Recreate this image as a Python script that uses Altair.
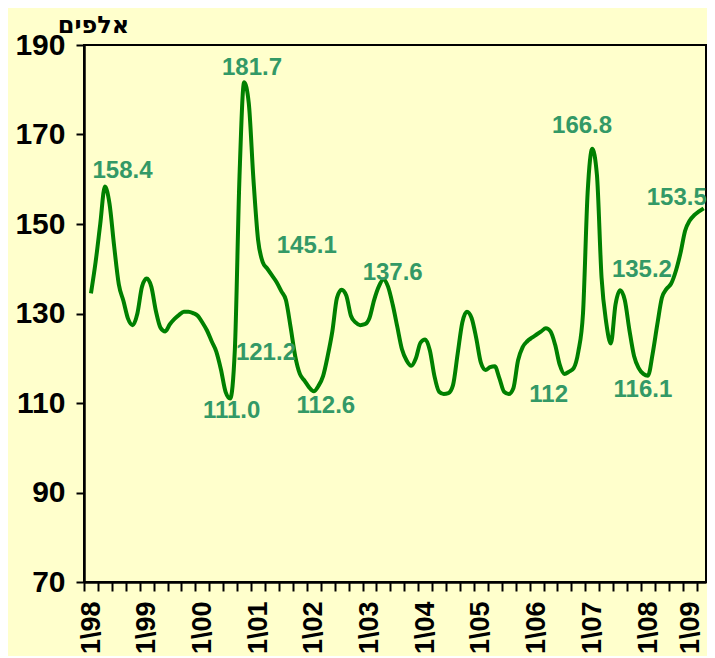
import json
import altair as alt
import pandas as pd

# monthly index: 0 = 1\98 ... 132 = 1\09
month_index = list(range(133))
values = [
    134.5, 141.5, 150.0, 158.4, 154.5, 145.0, 136.5, 132.8, 128.8, 127.4,
    130.0, 136.0, 137.8, 136.0, 130.5, 126.8, 126.0, 127.6, 128.8, 129.7,
    130.4, 130.4, 130.1, 129.5, 128.0, 126.2, 123.8, 121.5, 117.5, 112.5,
    111.0, 122.0, 160.6, 181.7, 177.0, 160.0, 146.5, 141.5, 140.0, 138.5,
    137.0, 135.0, 133.0, 127.0, 120.5, 116.5, 115.0, 113.5, 112.6, 113.8,
    116.0, 120.5, 126.0, 133.5, 135.3, 134.0, 129.5, 128.0, 127.4, 127.6,
    129.0, 133.0, 136.0, 137.6, 136.0, 132.0, 127.0, 122.0, 119.5, 118.3,
    120.0, 123.5, 124.2, 121.8, 116.0, 112.5, 112.0, 112.2, 114.0, 121.0,
    128.0, 130.4, 129.0, 124.5, 119.0, 117.4, 118.0, 118.2, 115.5, 112.5,
    112.0, 113.3, 119.5, 122.5, 123.8, 124.6, 125.3, 126.0, 126.7, 126.0,
    123.0, 118.5, 116.5, 117.0, 117.8, 121.5, 130.0, 157.0, 166.8, 161.0,
    138.0, 128.0, 123.3, 132.0, 135.2, 133.0, 126.3, 120.5, 117.8, 116.5,
    116.1, 121.0, 127.5, 133.5, 135.5, 136.7, 139.5, 143.5, 148.5, 150.8,
    152.0, 152.8, 153.5,
]
tick_labels = ["1\\98", "1\\99", "1\\00", "1\\01", "1\\02", "1\\03",
               "1\\04", "1\\05", "1\\06", "1\\07", "1\\08", "1\\09"]
y_ticks = [70, 90, 110, 130, 150, 170, 190]

ann_text = ["158.4", "181.7", "145.1", "121.2", "111.0", "112.6",
            "137.6", "112", "166.8", "135.2", "116.1", "153.5"]
ann_x = [6.8, 34.7, 46.5, 37.7, 30.3, 50.6, 65.0, 98.6, 105.8, 118.7, 118.9, 126.2]
ann_y = [160.3, 183.3, 143.6, 119.6, 106.6, 107.8, 137.5, 110.3, 170.3, 138.2, 111.4, 154.2]

df = pd.DataFrame({"i": month_index, "v": values})
ann = pd.DataFrame({"t": ann_text, "i": ann_x, "v": ann_y})

x_tick_values = [-1.5 + 3 * k for k in range(46)]
labels_js = "[" + ",".join(json.dumps(s) for s in tick_labels) + "]"
label_expr = (f"(round(datum.value + 1.5) % 12 == 0) ? "
              f"{labels_js}[round((datum.value + 1.5) / 12)] : ''")

FONT = "Liberation Sans"
xscale = alt.Scale(domain=[-1.5, 132.5], nice=False, zero=False)
yscale = alt.Scale(domain=[70, 190], nice=False, zero=False)

x_axis = alt.Axis(
    values=x_tick_values, labelExpr=label_expr, labelAngle=-90,
    labelOffset={"condition": {"test": "datum.value > 129", "value": -6}, "value": 7},
    labelOverlap=False, labelFlush=False, labelBound=False,
    tickSize=9, tickWidth=2, tickColor="black", labelPadding=10,
    labelFont=FONT, labelFontSize=27, labelFontWeight="bold", labelColor="black",
    domainColor="black", domainWidth=2.5, grid=False, title=None)
y_axis = alt.Axis(
    values=y_ticks, tickSize=8, tickWidth=2, tickColor="black", labelPadding=11,
    labelFont=FONT, labelFontSize=30, labelFontWeight="bold", labelColor="black",
    domainColor="black", domainWidth=2.5, grid=False,
    title="אלפים", titleAngle=0, titleAlign="center", titleBaseline="alphabetic",
    titleX=9, titleY=-13, titleFont="DejaVu Sans", titleFontSize=24,
    titleFontWeight="bold", titleColor="black")

line = alt.Chart(df).mark_line(
    color="#008000", strokeWidth=4, interpolate="monotone"
).encode(
    x=alt.X("i:Q", scale=xscale, axis=x_axis),
    y=alt.Y("v:Q", scale=yscale, axis=y_axis),
)

text = alt.Chart(ann).mark_text(
    font=FONT, fontSize=24, fontWeight="bold", color="#339966",
    align="center", baseline="alphabetic"
).encode(
    x=alt.X("i:Q", scale=xscale, axis=x_axis),
    y=alt.Y("v:Q", scale=yscale, axis=y_axis),
    text="t:N",
)

chart = alt.layer(line, text).properties(
    width=622, height=537,
    autosize=alt.AutoSizeParams(type="none"),
    padding={"left": 76, "top": 37, "right": 1, "bottom": 74},
    background="#FFFFCC",
).configure_view(stroke="black", strokeWidth=2)

chart.save("out.html", embed_options={"renderer": "svg", "actions": False})
